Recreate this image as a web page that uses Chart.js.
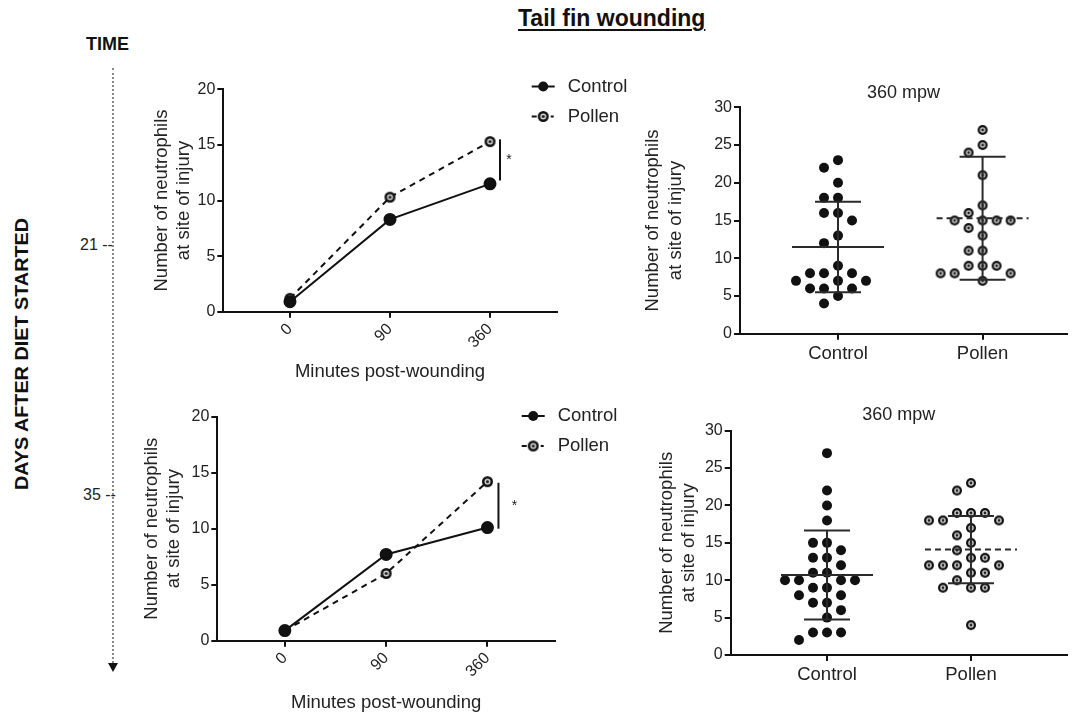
<!DOCTYPE html>
<html>
<head>
<meta charset="utf-8">
<script src="https://cdn.jsdelivr.net/npm/chart.js@4.4.0/dist/chart.umd.min.js"></script>
<style>
  body { margin: 0; background: #fff; width: 1073px; height: 715px; position: relative; overflow: hidden;
         font-family: Arial, "Liberation Sans", sans-serif; color: #111; }
  canvas, .abs { position: absolute; }
  #title { left: 518px; top: 7px; font-size: 23px; line-height: 23px; font-weight: bold; text-decoration: underline;
           text-decoration-thickness: 2px; text-underline-offset: 3px; white-space: nowrap; }
  #time { left: 86px; top: 35px; font-size: 18px; line-height: 18px; font-weight: bold; }
  .day { font-size: 16px; line-height: 16px; color: #222; white-space: nowrap; }
  #days { left: 22px; top: 354px; font-size: 18px; font-weight: bold; white-space: nowrap;
          transform: translate(-50%, -50%) rotate(-90deg) scaleX(1.1); }
  #timeline { left: 112px; top: 68px; height: 595px; border-left: 2px dotted #888; }
  #arrow { left: 108px; top: 663px; width: 0; height: 0; border-left: 5px solid transparent;
           border-right: 5px solid transparent; border-top: 9px solid #111; }
</style>
</head>
<body>
<div class="abs" id="title">Tail fin wounding</div>
<div class="abs" id="time">TIME</div>
<div class="abs" id="days">DAYS AFTER DIET STARTED</div>
<div class="abs day" style="left:80px; top:237px;">21 --</div>
<div class="abs day" style="left:83px; top:487px;">35 --</div>
<div class="abs" id="timeline"></div>
<div class="abs" id="arrow"></div>

<canvas id="line21" style="left:130px; top:70px;" width="510" height="320"></canvas>
<canvas id="line35" style="left:130px; top:400px;" width="510" height="315"></canvas>
<canvas id="dots21" style="left:640px; top:80px;" width="433" height="290"></canvas>
<canvas id="dots35" style="left:640px; top:400px;" width="433" height="300"></canvas>

<script>
// time course (mean counts)
const minutes = ['0', '90', '360'];
const ctrl21 = [0.9, 8.3, 11.5];
const pollen21 = [1.2, 10.3, 15.3];
const sig21 = [11.8, 15.5];
const ctrl35 = [0.9, 7.7, 10.1];
const pollen35 = [0.9, 6.0, 14.2];
const sig35 = [10.0, 14.1];

// individual larvae at 360 mpw
const groups = ['Control', 'Pollen'];
const ctrl21pts = [23, 22, 20, 18, 18, 16, 16, 15, 13, 12, 9, 8, 8, 8, 7, 7, 7, 6, 6, 6, 5, 4];
const pollen21pts = [27, 25, 24, 21, 17, 16, 15, 15, 15, 15, 14, 13, 11, 11, 9, 9, 9, 8, 8, 8, 7];
const mean21 = [11.5, 15.3];
const sd21 = [6.0, 8.15];
const ctrl35pts = [27, 22, 20, 18, 15, 15, 14, 13, 13, 12, 11, 11, 10, 10, 10, 10, 9, 9, 8, 8, 7, 7, 6, 5, 3, 3, 3, 2];
const pollen35pts = [23, 22, 19, 19, 19, 18, 18, 18, 17, 16, 15, 14, 13, 13, 12, 12, 12, 12, 11, 11, 10, 9, 9, 9, 4];
const mean35 = [10.7, 14.1];
const sd35 = [5.95, 4.5];

const FONT = 'Arial, "Liberation Sans", sans-serif';
Chart.defaults.font.family = FONT;
Chart.defaults.color = '#222';
Chart.defaults.animation = false;

function ringMarker(r) {
  const c = document.createElement('canvas');
  const s = Math.ceil(r * 2) + 2;
  c.width = c.height = s;
  const g = c.getContext('2d');
  const m = s / 2;
  g.fillStyle = '#111'; g.beginPath(); g.arc(m, m, r, 0, Math.PI * 2); g.fill();
  g.fillStyle = '#d4d4d4'; g.beginPath(); g.arc(m, m, r * 0.55, 0, Math.PI * 2); g.fill();
  g.fillStyle = '#222'; g.beginPath(); g.arc(m, m, r * 0.28, 0, Math.PI * 2); g.fill();
  return c;
}

// legend with line + marker, like the prism style
const lineLegend = {
  id: 'lineLegend',
  afterDraw(chart, args, o) {
    const ctx = chart.ctx;
    ctx.save();
    ctx.font = '18.5px ' + FONT;
    ctx.textBaseline = 'middle';
    ctx.fillStyle = '#222';
    ctx.strokeStyle = '#111';
    ctx.lineWidth = 2;
    // Control
    let y = o.y;
    ctx.beginPath(); ctx.moveTo(o.x, y); ctx.lineTo(o.x + 23, y); ctx.stroke();
    ctx.fillStyle = '#111';
    ctx.beginPath(); ctx.arc(o.x + 11.5, y, 5, 0, Math.PI * 2); ctx.fill();
    ctx.fillStyle = '#222';
    ctx.fillText(groups[0], o.x + 36, y);
    // Pollen
    y = o.y + o.gap;
    ctx.beginPath(); ctx.moveTo(o.x, y); ctx.lineTo(o.x + 5, y); ctx.moveTo(o.x + 19, y); ctx.lineTo(o.x + 22, y); ctx.stroke();
    const img = chart.data.datasets[1].pointStyle;
    ctx.drawImage(img, o.x + 11.5 - img.width / 2, y - img.height / 2);
    ctx.fillText(groups[1], o.x + 36, y);
    ctx.restore();
  }
};

// significance bar next to the 360 point
const sigBar = {
  id: 'sigBar',
  afterDatasetsDraw(chart, args, o) {
    const ctx = chart.ctx, xs = chart.scales.x, ys = chart.scales.y;
    const x = xs.getPixelForValue(2) + o.dx;
    ctx.save();
    ctx.strokeStyle = '#111'; ctx.lineWidth = 2;
    ctx.beginPath(); ctx.moveTo(x, ys.getPixelForValue(o.range[0])); ctx.lineTo(x, ys.getPixelForValue(o.range[1])); ctx.stroke();
    ctx.fillStyle = '#222'; ctx.font = '14px ' + FONT; ctx.textAlign = 'center'; ctx.textBaseline = 'middle';
    ctx.fillText('*', x + o.starDx, ys.getPixelForValue((o.range[0] + o.range[1]) / 2));
    ctx.restore();
  }
};

// mean + SD lines
const errorBars = {
  id: 'errorBars',
  afterDatasetsDraw(chart, args, o) {
    const ctx = chart.ctx, xs = chart.scales.x, ys = chart.scales.y;
    o.mean.forEach((m, i) => {
      const x = xs.getPixelForValue(i + 1);
      const lo = ys.getPixelForValue(m - o.sd[i]);
      const hi = ys.getPixelForValue(m + o.sd[i]);
      const my = ys.getPixelForValue(m);
      ctx.save();
      ctx.strokeStyle = '#2a2a2a'; ctx.lineWidth = 2;
      ctx.beginPath();
      ctx.moveTo(x, lo); ctx.lineTo(x, hi);
      ctx.moveTo(x - 23, lo); ctx.lineTo(x + 23, lo);
      ctx.moveTo(x - 23, hi); ctx.lineTo(x + 23, hi);
      ctx.stroke();
      ctx.setLineDash(i ? [6, 4] : []);
      ctx.beginPath(); ctx.moveTo(x - 46, my); ctx.lineTo(x + 46, my); ctx.stroke();
      ctx.restore();
    });
  }
};

const panelTitle = {
  id: 'panelTitle',
  afterDraw(chart, args, o) {
    const ctx = chart.ctx, a = chart.chartArea;
    ctx.save();
    ctx.font = '18px ' + FONT; ctx.fillStyle = '#222';
    ctx.textAlign = 'center'; ctx.textBaseline = 'middle';
    ctx.fillText(o.text, (a.left + a.right) / 2, o.y);
    ctx.restore();
  }
};

function yAxis(max, width) {
  return {
    min: 0, max: max,
    afterFit: s => { s.width = width; },
    ticks: { stepSize: 5, font: { size: 16 }, padding: 2, color: '#222' },
    grid: { drawOnChartArea: false, tickLength: 6, color: '#111', lineWidth: 2 },
    border: { color: '#111', width: 2 },
    title: { display: true, text: ['Number of neutrophils', 'at site of injury'], font: { size: 18.5, lineHeight: 1.2 },
             padding: 0, color: '#222' }
  };
}

function lineChart(id, ctrl, pollen, sig, g) {
  return new Chart(document.getElementById(id), {
    type: 'line',
    data: {
      datasets: [
        { label: groups[0], data: ctrl.map((v, i) => ({ x: i, y: v })), borderColor: '#111', borderWidth: 2,
          pointRadius: 5.5, pointBackgroundColor: '#111', pointBorderColor: '#111' },
        { label: groups[1], data: pollen.map((v, i) => ({ x: i, y: v })), borderColor: '#111', borderWidth: 2,
          borderDash: [6, 5], pointStyle: ringMarker(5.5), pointRadius: 5.5 }
      ]
    },
    options: {
      responsive: false,
      layout: { padding: { left: g.padLeft, top: g.padTop, right: g.padRight, bottom: 0 } },
      plugins: {
        legend: { display: false }, tooltip: { enabled: false },
        lineLegend: { x: g.legX, y: g.legY, gap: 30 },
        sigBar: { range: sig, dx: g.sigDx, starDx: g.starDx }
      },
      scales: {
        x: {
          type: 'linear', min: -2 / 3, max: 8 / 3,
          afterBuildTicks: a => { a.ticks = minutes.map((m, i) => ({ value: i })); },
          afterFit: s => { s.height = g.xHeight; },
          ticks: { callback: v => minutes[v], minRotation: 45, maxRotation: 45, font: { size: 16 }, padding: 2, color: '#222' },
          grid: { drawOnChartArea: false, tickLength: 6, color: '#111', lineWidth: 2 },
          border: { color: '#111', width: 2 },
          title: { display: true, text: 'Minutes post-wounding', font: { size: 18.5, lineHeight: 1.2 },
                   padding: { top: 0, bottom: g.xTitlePad }, color: '#222' }
        },
        y: yAxis(20, g.yWidth)
      }
    },
    plugins: [lineLegend, sigBar]
  });
}

// spread tied values sideways (column scatter), using the chart's own scales
function swarm(chart, step, diam) {
  const xs = chart.scales.x, ys = chart.scales.y;
  const unit = xs.getPixelForValue(2) - xs.getPixelForValue(1);
  chart.data.datasets.forEach((ds, i) => {
    const placed = [];
    ds.data.forEach(p => {
      const py = ys.getPixelForValue(p.y);
      for (let k = 0; k < 60; k++) {
        const off = (k % 2 ? -1 : 1) * Math.ceil(k / 2) * step;
        if (placed.every(q => (q.off - off) ** 2 + (q.py - py) ** 2 >= diam * diam)) {
          placed.push({ off, py });
          p.x = i + 1 + off / unit;
          break;
        }
      }
    });
  });
  chart.update('none');
}

function dotChart(id, ctrlPts, pollenPts, mean, sd, g) {
  const chart = new Chart(document.getElementById(id), {
    type: 'scatter',
    data: {
      datasets: [
        { label: groups[0], data: ctrlPts.map(v => ({ x: 1, y: v })), pointRadius: 5,
          pointBackgroundColor: '#111', pointBorderColor: '#111', pointBorderWidth: 0 },
        { label: groups[1], data: pollenPts.map(v => ({ x: 2, y: v })), pointStyle: ringMarker(5), pointRadius: 5 }
      ]
    },
    options: {
      responsive: false,
      layout: { padding: { left: g.padLeft, top: g.padTop, right: g.padRight, bottom: 0 } },
      plugins: {
        legend: { display: false }, tooltip: { enabled: false },
        errorBars: { mean: mean, sd: sd },
        panelTitle: { text: '360 mpw', y: g.titleY }
      },
      scales: {
        x: {
          type: 'linear', min: g.xMin, max: g.xMax,
          afterBuildTicks: a => { a.ticks = groups.map((m, i) => ({ value: i + 1 })); },
          afterFit: s => { s.height = g.xHeight; },
          ticks: { callback: v => groups[v - 1], maxRotation: 0, font: { size: 18.5 }, padding: 3, color: '#222' },
          grid: { drawOnChartArea: false, tickLength: 6, color: '#111', lineWidth: 2 },
          border: { color: '#111', width: 2 }
        },
        y: yAxis(30, g.yWidth)
      }
    },
    plugins: [errorBars, panelTitle]
  });
  swarm(chart, 7, 11.5);
  return chart;
}

lineChart('line21', ctrl21, pollen21, sig21,
  { padLeft: 20.6, yWidth: 72.7, padTop: 19.3, padRight: 83.3, xHeight: 78.3, xTitlePad: 7.2,
    legX: 401.7, legY: 16.5, sigDx: 10, starDx: 9 });
lineChart('line35', ctrl35, pollen35, sig35,
  { padLeft: 10.6, yWidth: 76.7, padTop: 16.7, padRight: 85, xHeight: 74.3, xTitlePad: 1,
    legX: 391.7, legY: 16, sigDx: 11, starDx: 16 });
dotChart('dots21', ctrl21pts, pollen21pts, mean21, sd21,
  { padLeft: 2.2, yWidth: 97.8, padTop: 27.3, padRight: 5, xHeight: 36.3, xMin: 0.322, xMax: 2.584, titleY: 13 });
dotChart('dots35', ctrl35pts, pollen35pts, mean35, sd35,
  { padLeft: 15.6, yWidth: 75.1, padTop: 30.7, padRight: 5, xHeight: 45, xMin: 0.331, xMax: 2.667, titleY: 15 });
</script>
</body>
</html>
